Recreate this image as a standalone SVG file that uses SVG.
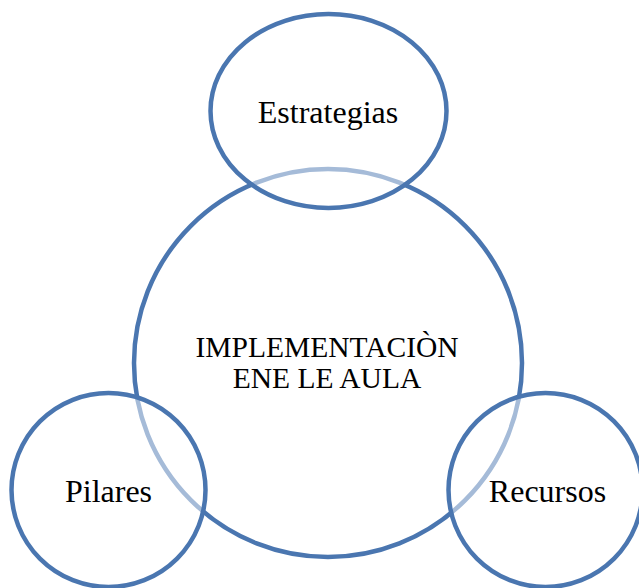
<svg xmlns="http://www.w3.org/2000/svg" width="639" height="588" viewBox="0 0 639 588">
<style>
.ring{stroke:#4a76b0;stroke-width:4.5}
.big{fill:#ffffff}
.small{fill:#ffffff;fill-opacity:0.5}
text{font-family:"Liberation Serif","Times New Roman",serif;fill:#000;text-anchor:middle}
.lbl{font-size:32px}
.ctr{font-size:29.5px}
</style>
<rect width="639" height="588" fill="#ffffff"/>
<g id="center-node">
<circle class="ring big" cx="328" cy="363" r="194"/>
</g>
<g id="estrategias">
<ellipse class="ring small" cx="328.5" cy="111" rx="118" ry="97"/>
</g>
<g id="pilares">
<circle class="ring small" cx="108.5" cy="490" r="97"/>
</g>
<g id="recursos">
<circle class="ring small" cx="545.5" cy="490" r="97"/>
</g>
<g id="labels">
<text class="lbl" x="328" y="122.5">Estrategias</text>
<text class="lbl" x="108.5" y="501.5">Pilares</text>
<text class="lbl" x="547.5" y="501.5">Recursos</text>
<text class="ctr" x="327" y="357">IMPLEMENTACIÒN</text>
<text class="ctr" x="327" y="388">ENE LE AULA</text>
</g>
</svg>
